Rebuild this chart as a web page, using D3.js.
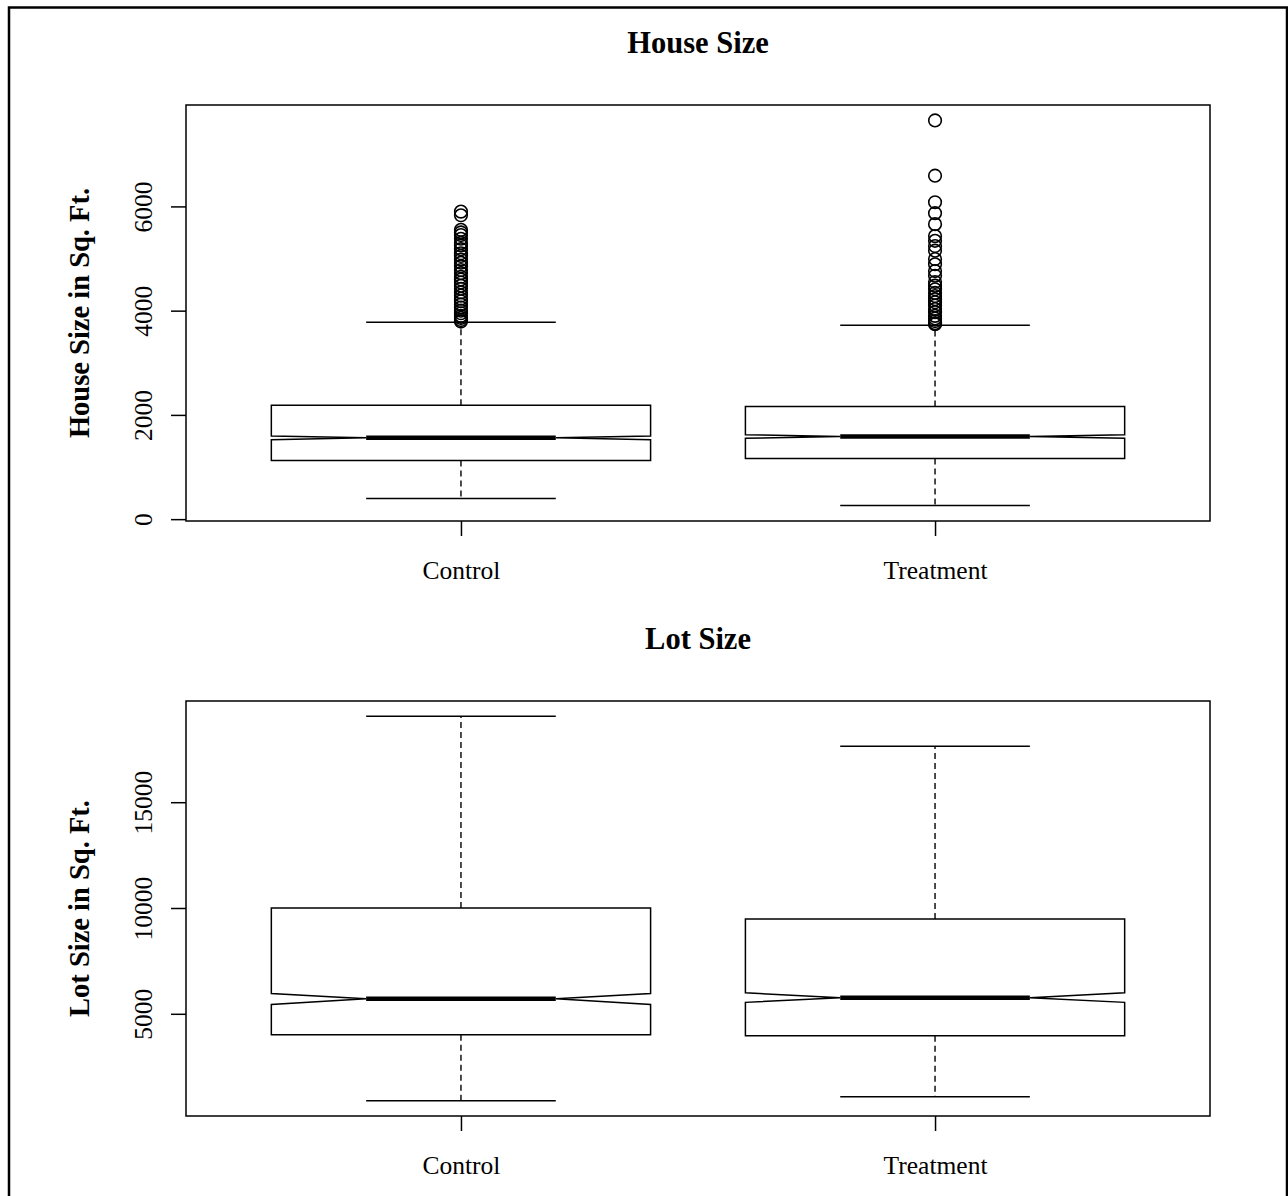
<!DOCTYPE html>
<html>
<head>
<meta charset="utf-8">
<script src="https://cdn.jsdelivr.net/npm/d3@7"></script>
<style>
  body { margin: 0; background: #fff; }
  text { font-family: "Liberation Serif", "Times New Roman", serif; fill: #000; }
</style>
</head>
<body>
<div id="chart"></div>
<script>
// Data
const groups = ["Control", "Treatment"];

// House size (sq. ft.)
const houseLow = [394, 260];
const houseQ1 = [1125, 1163];
const houseMedian = [1560, 1585];
const houseQ3 = [2183, 2163];
const houseHigh = [3779, 3721];
const houseNotchLo = [1525, 1550];
const houseNotchHi = [1595, 1620];
const houseOutControl = [5900, 5830, 5550, 5500, 5450, 5380, 5300, 5250, 5180, 5100, 5050, 4980, 4920, 4850,
  4780, 4720, 4650, 4600, 4540, 4480, 4420, 4350, 4290, 4230, 4180, 4120, 4060, 4000, 3950, 3900, 3860, 3820, 3790];
const houseOutTreatment = [7650, 6590, 6080, 5870, 5660, 5430, 5340, 5240, 5150, 4990, 4890, 4760, 4670, 4550,
  4480, 4410, 4340, 4280, 4220, 4160, 4100, 4030, 3970, 3900, 3850, 3800, 3760, 3740];
const houseTicks = [0, 2000, 4000, 6000];

// Lot size (sq. ft.)
const lotLow = [896, 1085];
const lotQ1 = [4009, 3962];
const lotMedian = [5708, 5760];
const lotQ3 = [10000, 9481];
const lotHigh = [19057, 17642];
const lotNotchLo = [5440, 5540];
const lotNotchHi = [5960, 5990];
const lotTicks = [5000, 10000, 15000];

const W = 1288, H = 1196;
const svg = d3.select("#chart").append("svg")
  .attr("width", W).attr("height", H);

svg.append("rect").attr("width", W).attr("height", H).attr("fill", "#fff");

// outer frame
svg.append("rect")
  .attr("x", 9).attr("y", 7.5)
  .attr("width", 1278).attr("height", 1210)
  .attr("fill", "none").attr("stroke", "#000").attr("stroke-width", 2.5);

function panel(cfg) {
  const left = 186, right = 1210;
  const { top, bottom } = cfg;

  // R style 4% range extension
  const n = groups.length;
  const xPad = n * 0.04;
  const x = d3.scaleLinear().domain([0.5 - xPad, n + 0.5 + xPad]).range([left, right]);

  const allVals = cfg.low.concat(cfg.high, cfg.outliers.flat());
  const lo = d3.min(allVals), hi = d3.max(allVals);
  const yPad = (hi - lo) * 0.04;
  const y = d3.scaleLinear().domain([lo - yPad, hi + yPad]).range([bottom, top]);

  const g = svg.append("g");
  const hw = x(1.4) - x(1);   // half box width (boxwex 0.8)

  groups.forEach((name, i) => {
    const cx = x(i + 1);

    // whiskers (dashed)
    g.append("line")
      .attr("x1", cx).attr("x2", cx)
      .attr("y1", y(cfg.q3[i])).attr("y2", y(cfg.high[i]))
      .attr("stroke", "#000").attr("stroke-width", 1.4).attr("stroke-dasharray", "6,4");
    g.append("line")
      .attr("x1", cx).attr("x2", cx)
      .attr("y1", y(cfg.q1[i])).attr("y2", y(cfg.low[i]))
      .attr("stroke", "#000").attr("stroke-width", 1.4).attr("stroke-dasharray", "6,4");

    // staples
    [cfg.high[i], cfg.low[i]].forEach(v => {
      g.append("line")
        .attr("x1", cx - hw / 2).attr("x2", cx + hw / 2)
        .attr("y1", y(v)).attr("y2", y(v))
        .attr("stroke", "#000").attr("stroke-width", 1.5);
    });

    // notched box
    const pts = [
      [cx - hw, y(cfg.q1[i])], [cx - hw, y(cfg.notchLo[i])], [cx - hw / 2, y(cfg.median[i])],
      [cx - hw, y(cfg.notchHi[i])], [cx - hw, y(cfg.q3[i])], [cx + hw, y(cfg.q3[i])],
      [cx + hw, y(cfg.notchHi[i])], [cx + hw / 2, y(cfg.median[i])], [cx + hw, y(cfg.notchLo[i])],
      [cx + hw, y(cfg.q1[i])]
    ];
    g.append("path")
      .attr("d", d3.line()(pts) + "Z")
      .attr("fill", "#fff").attr("stroke", "#000").attr("stroke-width", 1.5);

    // median
    g.append("line")
      .attr("x1", cx - hw / 2).attr("x2", cx + hw / 2)
      .attr("y1", y(cfg.median[i])).attr("y2", y(cfg.median[i]))
      .attr("stroke", "#000").attr("stroke-width", 4.5);

    // outliers
    g.selectAll(null)
      .data(cfg.outliers[i])
      .enter()
      .append("circle")
      .attr("cx", cx)
      .attr("cy", d => y(d))
      .attr("r", 6.3)
      .attr("fill", "none")
      .attr("stroke", "#000")
      .attr("stroke-width", 1.6);
  });

  // plot frame
  svg.append("rect")
    .attr("x", left).attr("y", top)
    .attr("width", right - left).attr("height", bottom - top)
    .attr("fill", "none").attr("stroke", "#000").attr("stroke-width", 1.5);

  // y axis
  const yAxis = svg.append("g")
    .attr("transform", `translate(${left},0)`)
    .call(d3.axisLeft(y).tickValues(cfg.ticks).tickSize(15).tickFormat(d3.format("d")));
  yAxis.select(".domain").remove();
  yAxis.selectAll(".tick line").attr("stroke", "#000").attr("stroke-width", 1.5);
  yAxis.selectAll(".tick text")
    .attr("transform", "rotate(-90)")
    .attr("x", 0).attr("y", -34).attr("dy", 0)
    .attr("text-anchor", "middle")
    .style("font-size", "25.5px")
    .style("font-family", "'Liberation Serif', 'Times New Roman', serif");

  // x axis
  const xAxis = svg.append("g")
    .attr("transform", `translate(0,${bottom})`)
    .call(d3.axisBottom(x).tickValues([1, 2]).tickSize(15).tickFormat((d, i) => groups[i]));
  xAxis.select(".domain").remove();
  xAxis.selectAll(".tick line").attr("stroke", "#000").attr("stroke-width", 1.5);
  xAxis.selectAll(".tick text")
    .attr("y", 0).attr("dy", 58)
    .style("font-size", "25.5px")
    .style("font-family", "'Liberation Serif', 'Times New Roman', serif");

  // title
  svg.append("text")
    .attr("x", (left + right) / 2).attr("y", top - 52)
    .attr("text-anchor", "middle")
    .style("font-size", "30.5px").style("font-weight", "bold")
    .text(cfg.title);

  // y label
  svg.append("text")
    .attr("transform", `translate(89,${(top + bottom) / 2}) rotate(-90)`)
    .attr("text-anchor", "middle")
    .style("font-size", "28.5px").style("font-weight", "bold")
    .text(cfg.ylab);
}

panel({
  top: 105, bottom: 521, title: "House Size", ylab: "House Size in Sq. Ft.",
  low: houseLow, q1: houseQ1, median: houseMedian, q3: houseQ3, high: houseHigh,
  notchLo: houseNotchLo, notchHi: houseNotchHi,
  outliers: [houseOutControl, houseOutTreatment], ticks: houseTicks
});

panel({
  top: 701, bottom: 1116, title: "Lot Size", ylab: "Lot Size in Sq. Ft.",
  low: lotLow, q1: lotQ1, median: lotMedian, q3: lotQ3, high: lotHigh,
  notchLo: lotNotchLo, notchHi: lotNotchHi,
  outliers: [[], []], ticks: lotTicks
});
</script>
</body>
</html>
